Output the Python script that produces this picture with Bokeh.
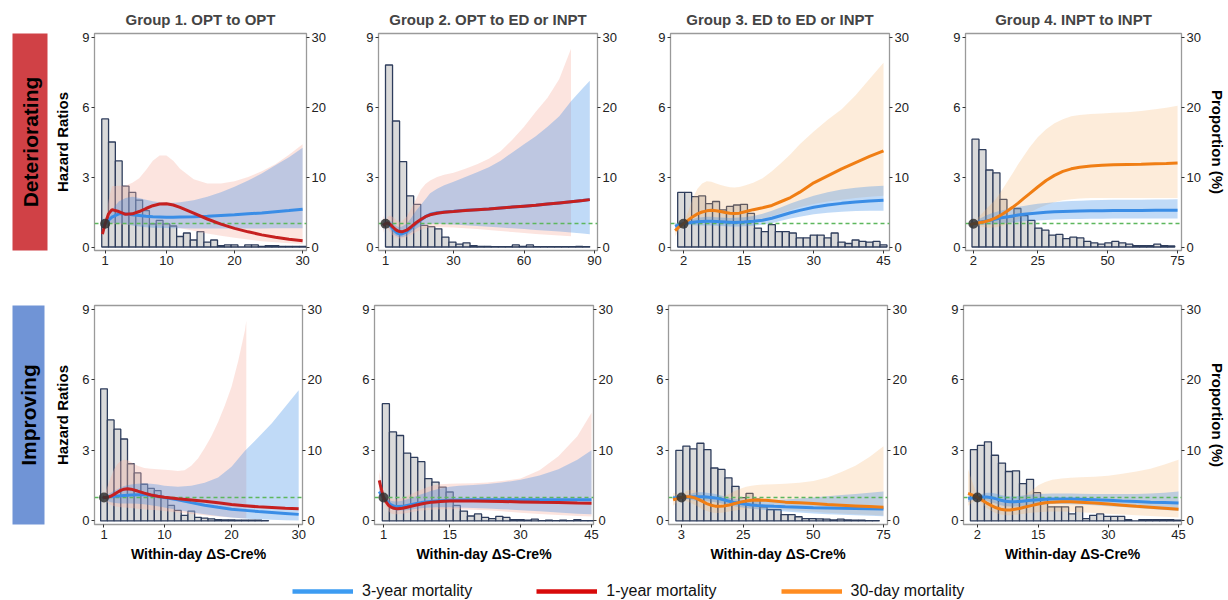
import math
from bokeh.plotting import figure
from bokeh.models import Range1d, LinearAxis, FixedTicker, Legend, LegendItem
from bokeh.layouts import row, column
from bokeh.embed import file_html
from bokeh.resources import INLINE
from bokeh.core.properties import value

FONT = "Liberation Sans"

# ---------------- shared scales / labels ----------------
HR_TICKS = [0, 3, 6, 9]
PROP_TICKS = [0, 10, 20, 30]
HR_NULL = 1.0
REF_HR = 1.0
TITLES = ["Group 1. OPT to OPT", "Group 2. OPT to ED or INPT",
          "Group 3. ED to ED or INPT", "Group 4. INPT to INPT"]
ROW_LABELS = ["Deteriorating", "Improving"]
LEGEND_LABELS = ["3-year mortality", "1-year mortality", "30-day mortality"]

# ---------------- Group 1, deteriorating ----------------
G1D_XTICKS = [1, 10, 20, 30]
G1D_REF = 1
G1D_X = [0.6, 1, 1.5, 2, 3, 4, 5, 6, 7, 8, 9, 10, 11, 12, 14, 16, 18, 20, 22, 24, 26, 28, 30]
G1D_3Y = [0.88, 1.0, 1.15, 1.28, 1.42, 1.42, 1.38, 1.35, 1.32, 1.3, 1.29, 1.28, 1.28, 1.29, 1.3, 1.32, 1.35, 1.38, 1.42, 1.46, 1.51, 1.56, 1.62]
G1D_3Y_LO = [0.75, 0.97, 1.0, 1.02, 1.02, 0.98, 0.92, 0.88, 0.85, 0.83, 0.82, 0.81, 0.8, 0.8, 0.79, 0.79, 0.79, 0.79, 0.79, 0.79, 0.8, 0.8, 0.8]
G1D_3Y_HI = [1.3, 1.03, 1.3, 1.6, 1.95, 2.1, 2.15, 2.1, 2.02, 1.96, 1.92, 1.9, 1.9, 1.92, 2.0, 2.15, 2.35, 2.58, 2.85, 3.15, 3.5, 3.85, 4.25]
G1D_XB = G1D_X
G1D_B = [0.55, 1.0, 1.42, 1.6, 1.52, 1.4, 1.42, 1.52, 1.65, 1.77, 1.84, 1.85, 1.8, 1.7, 1.45, 1.2, 0.98, 0.8, 0.65, 0.52, 0.42, 0.33, 0.27]
G1D_B_LO = [0.35, 0.95, 1.0, 1.0, 0.98, 0.95, 0.93, 0.92, 0.92, 0.92, 0.9, 0.88, 0.85, 0.8, 0.7, 0.58, 0.48, 0.4, 0.32, 0.25, 0.2, 0.16, 0.13]
G1D_B_HI = [0.85, 1.05, 2.0, 2.6, 2.62, 2.62, 2.75, 2.95, 3.3, 3.7, 3.92, 3.92, 3.7, 3.35, 2.9, 2.72, 2.72, 2.82, 3.0, 3.25, 3.55, 3.95, 4.4]
G1D_BIN0, G1D_BINW = 0.5, 1.0
G1D_PROP = [18.3, 15.0, 12.3, 8.7, 7.8, 6.7, 5.2, 3.3, 3.8, 3.3, 3.0, 1.5, 2.0, 1.0, 2.2, 0.7, 1.0, 0.2, 0.3, 0.3, 0.0, 0.3, 0.3, 0.1, 0.2, 0.2, 0.1, 0.1, 0.1, 0.1]

# ---------------- Group 2, deteriorating ----------------
G2D_XTICKS = [1, 30, 60, 90]
G2D_REF = 1
G2D_X = [0, 1, 2, 3, 4, 5, 6, 7, 8, 10, 12, 14, 16, 18, 20, 23, 26, 30, 35, 40, 45, 50, 55, 60, 65, 70, 75, 80, 85, 88]
G2D_3Y = [0.92, 1.0, 1.0, 0.92, 0.8, 0.68, 0.6, 0.56, 0.56, 0.65, 0.82, 1.0, 1.16, 1.3, 1.4, 1.47, 1.5, 1.53, 1.57, 1.6, 1.63, 1.67, 1.71, 1.75, 1.79, 1.84, 1.89, 1.94, 1.99, 2.03]
G2D_3Y_LO = [0.72, 0.97, 0.9, 0.75, 0.6, 0.5, 0.45, 0.42, 0.42, 0.48, 0.62, 0.78, 0.9, 0.98, 1.0, 1.0, 0.98, 0.96, 0.93, 0.9, 0.87, 0.84, 0.8, 0.77, 0.73, 0.7, 0.66, 0.62, 0.58, 0.55]
G2D_3Y_HI = [1.2, 1.03, 1.12, 1.12, 1.05, 0.95, 0.88, 0.85, 0.88, 1.0, 1.25, 1.55, 1.8, 2.05, 2.3, 2.5, 2.65, 2.8, 3.0, 3.2, 3.42, 3.7, 4.05, 4.4, 4.75, 5.15, 5.6, 6.25, 6.8, 7.13]
G2D_B = [0.92, 1.0, 1.03, 0.97, 0.87, 0.77, 0.7, 0.66, 0.65, 0.72, 0.87, 1.04, 1.18, 1.3, 1.38, 1.45, 1.49, 1.52, 1.56, 1.6, 1.63, 1.67, 1.71, 1.75, 1.79, 1.84, 1.89, 1.94, 1.99, 2.03]
G2D_XB = [0, 1, 2, 3, 4, 5, 6, 7, 8, 10, 12, 14, 16, 18, 20, 23, 26, 30, 35, 40, 45, 50, 55, 60, 65, 70, 75, 80]
G2D_B_LO = [0.6, 0.95, 0.8, 0.62, 0.5, 0.42, 0.38, 0.36, 0.37, 0.42, 0.52, 0.64, 0.74, 0.8, 0.84, 0.85, 0.85, 0.84, 0.8, 0.77, 0.73, 0.69, 0.64, 0.6, 0.56, 0.52, 0.49, 0.46]
G2D_B_HI = [1.35, 1.05, 1.3, 1.35, 1.3, 1.2, 1.12, 1.08, 1.1, 1.3, 1.65, 2.05, 2.45, 2.7, 2.85, 3.0, 3.1, 3.18, 3.35, 3.55, 3.78, 4.1, 4.6, 5.15, 5.8, 6.4, 7.2, 8.5]
G2D_BIN0, G2D_BINW = 1.0, 3.0
G2D_PROP = [26.0, 18.0, 12.2, 7.3, 6.1, 3.1, 2.9, 2.6, 1.4, 0.7, 0.4, 0.6, 0.2, 0.1, 0.1, 0.05, 0.05, 0.05, 0.3, 0.1, 0.3, 0.05, 0.05, 0.05, 0.05, 0.05, 0.05, 0.1, 0.05]

# ---------------- Group 3, deteriorating ----------------
G3D_XTICKS = [2, 15, 30, 45]
G3D_REF = 2
G3D_X = [0.2, 1, 2, 3, 4, 5, 6, 7, 8, 9, 10, 11, 12, 13, 14, 15, 17, 19, 21, 23, 25, 27, 30, 33, 36, 39, 42, 45]
G3D_3Y = [0.88, 0.95, 1.0, 1.04, 1.06, 1.08, 1.09, 1.1, 1.1, 1.09, 1.08, 1.07, 1.06, 1.05, 1.06, 1.07, 1.1, 1.15, 1.23, 1.35, 1.47, 1.57, 1.7, 1.8, 1.87, 1.93, 1.97, 2.0]
G3D_3Y_LO = [0.72, 0.9, 0.98, 0.95, 0.93, 0.92, 0.92, 0.92, 0.92, 0.91, 0.9, 0.89, 0.88, 0.88, 0.88, 0.89, 0.91, 0.95, 1.02, 1.12, 1.22, 1.3, 1.4, 1.47, 1.51, 1.54, 1.55, 1.55]
G3D_3Y_HI = [1.05, 1.0, 1.02, 1.12, 1.2, 1.25, 1.28, 1.3, 1.3, 1.28, 1.26, 1.25, 1.24, 1.25, 1.26, 1.28, 1.33, 1.42, 1.55, 1.7, 1.86, 2.0, 2.2, 2.35, 2.46, 2.54, 2.59, 2.62]
G3D_XB = G3D_X
G3D_B = [0.7, 0.85, 1.0, 1.15, 1.3, 1.42, 1.5, 1.55, 1.57, 1.55, 1.52, 1.48, 1.45, 1.44, 1.45, 1.5, 1.6, 1.68, 1.78, 1.95, 2.12, 2.35, 2.75, 3.05, 3.35, 3.62, 3.88, 4.12]
G3D_B_LO = [0.45, 0.75, 0.98, 0.98, 1.0, 1.02, 1.04, 1.05, 1.05, 1.04, 1.03, 1.02, 1.01, 1.0, 1.01, 1.03, 1.1, 1.2, 1.32, 1.45, 1.58, 1.7, 1.84, 1.95, 2.03, 2.1, 2.15, 2.2]
G3D_B_HI = [1.0, 1.02, 1.05, 1.5, 2.1, 2.5, 2.72, 2.82, 2.8, 2.72, 2.66, 2.6, 2.56, 2.55, 2.57, 2.62, 2.75, 2.95, 3.25, 3.6, 3.98, 4.4, 4.95, 5.45, 5.9, 6.5, 7.2, 7.9]
G3D_BIN0, G3D_BINW = 0.75, 1.5
G3D_PROP = [7.8, 7.8, 7.2, 7.3, 6.2, 6.5, 5.3, 5.8, 6.0, 6.1, 4.8, 2.7, 2.2, 3.2, 2.2, 2.2, 2.0, 1.3, 1.3, 1.7, 1.7, 1.3, 2.0, 0.7, 0.5, 1.0, 0.8, 0.7, 0.8, 0.3]

# ---------------- Group 4, deteriorating ----------------
G4D_XTICKS = [2, 25, 50, 75]
G4D_REF = 2
G4D_X = [0.8, 2, 4, 6, 8, 10, 12, 14, 16, 18, 20, 22, 25, 28, 31, 34, 37, 40, 44, 48, 52, 57, 62, 67, 71, 75]
G4D_3Y = [0.92, 1.0, 1.06, 1.1, 1.15, 1.2, 1.25, 1.29, 1.33, 1.37, 1.4, 1.43, 1.46, 1.49, 1.51, 1.52, 1.53, 1.54, 1.55, 1.55, 1.56, 1.56, 1.56, 1.57, 1.57, 1.57]
G4D_3Y_LO = [0.85, 0.98, 0.95, 0.95, 0.96, 0.98, 1.0, 1.03, 1.05, 1.08, 1.1, 1.12, 1.14, 1.16, 1.18, 1.19, 1.2, 1.2, 1.21, 1.21, 1.22, 1.22, 1.22, 1.22, 1.22, 1.22]
G4D_3Y_HI = [1.0, 1.02, 1.2, 1.32, 1.42, 1.5, 1.56, 1.62, 1.67, 1.72, 1.76, 1.8, 1.85, 1.89, 1.92, 1.95, 1.97, 1.98, 2.0, 2.01, 2.02, 2.03, 2.03, 2.04, 2.04, 2.05]
G4D_XB = G4D_X
G4D_B = [0.95, 1.0, 1.04, 1.08, 1.15, 1.25, 1.38, 1.53, 1.7, 1.88, 2.08, 2.28, 2.57, 2.85, 3.07, 3.24, 3.35, 3.42, 3.47, 3.5, 3.52, 3.54, 3.55, 3.57, 3.58, 3.6]
G4D_B_LO = [0.85, 0.98, 0.9, 0.85, 0.83, 0.85, 0.9, 0.98, 1.08, 1.2, 1.33, 1.47, 1.65, 1.8, 1.92, 2.0, 2.05, 2.08, 2.1, 2.1, 2.1, 2.1, 2.1, 2.1, 2.1, 2.1]
G4D_B_HI = [1.05, 1.02, 1.3, 1.55, 1.8, 2.05, 2.4, 2.78, 3.15, 3.55, 3.9, 4.25, 4.7, 5.05, 5.3, 5.48, 5.6, 5.66, 5.7, 5.72, 5.75, 5.78, 5.83, 5.9, 5.97, 6.05]
G4D_BIN0, G4D_BINW = 1.5, 2.5
G4D_PROP = [15.4, 13.9, 11.0, 10.6, 6.8, 4.3, 5.5, 4.5, 3.8, 2.7, 2.4, 1.7, 1.8, 1.2, 1.4, 1.3, 0.8, 0.6, 0.4, 0.6, 0.8, 0.6, 0.4, 0.2, 0.2, 0.2, 0.4, 0.2, 0.15]

# ---------------- Group 1, improving ----------------
G1I_XTICKS = [1, 10, 20, 30]
G1I_REF = 1
G1I_X = [0.8, 1, 1.5, 2, 2.5, 3, 3.5, 4, 4.5, 5, 6, 7, 8, 9, 10, 12, 14, 16, 18, 20, 22, 24, 26, 28, 30]
G1I_3Y = [0.95, 1.0, 1.02, 1.04, 1.05, 1.06, 1.07, 1.08, 1.09, 1.1, 1.11, 1.11, 1.09, 1.05, 1.0, 0.9, 0.78, 0.67, 0.58, 0.5, 0.45, 0.4, 0.36, 0.32, 0.28]
G1I_3Y_LO = [0.75, 0.98, 0.85, 0.8, 0.77, 0.75, 0.74, 0.74, 0.74, 0.74, 0.73, 0.71, 0.67, 0.62, 0.57, 0.47, 0.37, 0.28, 0.21, 0.15, 0.1, 0.07, 0.05, 0.03, 0.02]
G1I_3Y_HI = [1.2, 1.02, 1.12, 1.2, 1.28, 1.35, 1.42, 1.48, 1.52, 1.55, 1.58, 1.6, 1.58, 1.55, 1.5, 1.45, 1.5, 1.62, 1.85, 2.3, 2.98, 3.55, 4.15, 4.85, 5.55]
G1I_B = [1.02, 1.0, 1.0, 1.05, 1.13, 1.22, 1.3, 1.35, 1.37, 1.35, 1.27, 1.18, 1.1, 1.05, 1.01, 0.94, 0.89, 0.84, 0.77, 0.7, 0.65, 0.6, 0.57, 0.54, 0.52]
G1I_XB = [0.8, 1, 1.5, 2, 2.5, 3, 3.5, 4, 4.5, 5, 6, 7, 8, 9, 10, 11, 12, 13, 14, 15, 16, 17, 18, 19, 20, 21, 22, 22.2]
G1I_B_LO = [0.6, 0.95, 0.78, 0.68, 0.62, 0.6, 0.58, 0.57, 0.56, 0.55, 0.52, 0.5, 0.47, 0.45, 0.42, 0.39, 0.36, 0.33, 0.3, 0.27, 0.24, 0.21, 0.19, 0.17, 0.15, 0.13, 0.12, 0.12]
G1I_B_HI = [1.6, 1.05, 1.45, 1.85, 2.2, 2.42, 2.55, 2.6, 2.58, 2.5, 2.35, 2.25, 2.22, 2.2, 2.18, 2.15, 2.12, 2.15, 2.35, 2.65, 3.1, 3.6, 4.2, 4.9, 5.7, 6.8, 8.1, 8.5]
G1I_BIN0, G1I_BINW = 0.5, 1.0
G1I_PROP = [18.7, 14.3, 13.0, 11.6, 8.1, 6.8, 5.2, 4.6, 4.3, 3.4, 2.2, 1.5, 0.8, 1.4, 0.5, 0.4, 0.3, 0.2, 0.15, 0.15, 0.1, 0.1, 0.1, 0.1, 0.05]

# ---------------- Group 2, improving ----------------
G2I_XTICKS = [1, 15, 30, 45]
G2I_REF = 1
G2I_X = [0.1, 0.5, 1, 1.5, 2, 2.5, 3, 3.5, 4, 5, 6, 7, 8, 9, 10, 11, 12, 13, 15, 17, 20, 23, 26, 30, 34, 38, 42, 45]
G2I_3Y = [1.25, 1.12, 1.0, 0.88, 0.78, 0.7, 0.65, 0.62, 0.61, 0.62, 0.66, 0.7, 0.74, 0.78, 0.81, 0.83, 0.85, 0.86, 0.88, 0.89, 0.9, 0.9, 0.9, 0.9, 0.9, 0.9, 0.9, 0.9]
G2I_3Y_LO = [1.1, 1.02, 0.98, 0.8, 0.65, 0.55, 0.48, 0.45, 0.44, 0.44, 0.46, 0.49, 0.52, 0.54, 0.56, 0.57, 0.58, 0.58, 0.58, 0.57, 0.55, 0.53, 0.5, 0.46, 0.41, 0.36, 0.31, 0.28]
G2I_3Y_HI = [1.4, 1.22, 1.02, 0.95, 0.9, 0.86, 0.84, 0.83, 0.83, 0.86, 0.92, 0.99, 1.06, 1.13, 1.2, 1.27, 1.33, 1.38, 1.45, 1.5, 1.53, 1.57, 1.63, 1.75, 1.93, 2.2, 2.6, 3.0]
G2I_XB = G2I_X
G2I_B = [1.72, 1.38, 1.0, 0.82, 0.68, 0.6, 0.55, 0.53, 0.52, 0.54, 0.58, 0.63, 0.68, 0.72, 0.76, 0.79, 0.81, 0.83, 0.85, 0.85, 0.85, 0.84, 0.83, 0.81, 0.79, 0.78, 0.76, 0.75]
G2I_B_LO = [1.25, 1.1, 0.95, 0.6, 0.42, 0.33, 0.3, 0.29, 0.29, 0.31, 0.34, 0.38, 0.41, 0.44, 0.46, 0.48, 0.49, 0.5, 0.5, 0.5, 0.48, 0.45, 0.41, 0.35, 0.3, 0.25, 0.21, 0.19]
G2I_B_HI = [2.1, 1.7, 1.05, 1.0, 0.98, 0.95, 0.93, 0.92, 0.93, 0.98, 1.06, 1.15, 1.25, 1.33, 1.41, 1.48, 1.53, 1.56, 1.58, 1.59, 1.6, 1.63, 1.7, 1.8, 2.15, 2.75, 3.6, 4.6]
G2I_BIN0, G2I_BINW = 0.75, 1.5
G2I_PROP = [16.6, 12.6, 12.1, 9.6, 9.0, 8.4, 6.0, 5.5, 4.8, 4.1, 2.2, 1.4, 0.7, 1.0, 0.5, 0.33, 0.66, 0.5, 0.2, 0.2, 0.1, 0.25, 0.05, 0.1, 0.05, 0.1, 0.05, 0.2, 0.03, 0.03]

# ---------------- Group 3, improving ----------------
G3I_XTICKS = [3, 25, 50, 75]
G3I_REF = 3
G3I_X = [0, 1.5, 3, 4.5, 6, 7.5, 9, 10.5, 12, 13.5, 15, 16.5, 18, 20, 22, 24, 26, 28, 30, 33, 36, 40, 45, 50, 55, 60, 65, 70, 75]
G3I_3Y = [0.98, 0.99, 1.0, 1.01, 1.02, 1.03, 1.03, 1.03, 1.02, 1.0, 0.98, 0.94, 0.9, 0.84, 0.78, 0.74, 0.71, 0.68, 0.66, 0.64, 0.62, 0.6, 0.58, 0.56, 0.55, 0.54, 0.53, 0.52, 0.51]
G3I_3Y_LO = [0.9, 0.95, 0.98, 0.94, 0.9, 0.87, 0.85, 0.84, 0.84, 0.83, 0.8, 0.76, 0.72, 0.67, 0.62, 0.58, 0.55, 0.52, 0.5, 0.47, 0.44, 0.4, 0.36, 0.32, 0.29, 0.26, 0.24, 0.22, 0.2]
G3I_3Y_HI = [1.08, 1.05, 1.02, 1.08, 1.15, 1.2, 1.22, 1.22, 1.2, 1.18, 1.15, 1.1, 1.05, 0.98, 0.93, 0.9, 0.88, 0.87, 0.87, 0.88, 0.89, 0.91, 0.95, 1.0, 1.05, 1.1, 1.15, 1.2, 1.25]
G3I_XB = G3I_X
G3I_B = [0.9, 0.95, 1.0, 1.03, 1.03, 0.99, 0.92, 0.83, 0.74, 0.67, 0.63, 0.62, 0.64, 0.68, 0.74, 0.8, 0.85, 0.88, 0.89, 0.88, 0.85, 0.8, 0.77, 0.74, 0.7, 0.67, 0.64, 0.61, 0.58]
G3I_B_LO = [0.65, 0.8, 0.97, 0.85, 0.78, 0.7, 0.6, 0.5, 0.42, 0.37, 0.34, 0.34, 0.36, 0.4, 0.44, 0.48, 0.5, 0.52, 0.52, 0.51, 0.5, 0.47, 0.43, 0.39, 0.35, 0.32, 0.29, 0.26, 0.23]
G3I_B_HI = [1.2, 1.12, 1.05, 1.25, 1.33, 1.3, 1.2, 1.08, 0.98, 0.93, 0.93, 0.97, 1.05, 1.15, 1.27, 1.37, 1.45, 1.5, 1.53, 1.55, 1.56, 1.58, 1.62, 1.7, 1.85, 2.08, 2.35, 2.72, 3.17]
G3I_BIN0, G3I_BINW = 1.0, 2.5
G3I_PROP = [10.0, 10.6, 10.2, 11.0, 10.1, 7.5, 7.3, 6.1, 4.9, 3.3, 3.9, 3.1, 2.0, 1.6, 1.6, 0.9, 0.9, 0.6, 0.33, 0.33, 0.3, 0.25, 0.15, 0.25, 0.15, 0.1, 0.1, 0.05, 0.05]

# ---------------- Group 4, improving ----------------
G4I_XTICKS = [2, 15, 30, 45]
G4I_REF = 2
G4I_X = [0, 1, 2, 3, 4, 5, 6, 7, 8, 9, 10, 11, 12, 13.5, 15, 16.5, 18, 20, 22, 24, 27, 30, 33, 36, 39, 42, 45]
G4I_3Y = [0.95, 0.98, 1.0, 1.02, 1.02, 0.99, 0.94, 0.88, 0.84, 0.82, 0.82, 0.83, 0.85, 0.88, 0.9, 0.92, 0.93, 0.93, 0.93, 0.92, 0.9, 0.88, 0.85, 0.83, 0.8, 0.78, 0.76]
G4I_3Y_LO = [0.8, 0.9, 0.98, 0.9, 0.85, 0.79, 0.73, 0.67, 0.63, 0.61, 0.61, 0.62, 0.64, 0.67, 0.69, 0.71, 0.72, 0.72, 0.71, 0.7, 0.67, 0.63, 0.59, 0.55, 0.51, 0.47, 0.43]
G4I_3Y_HI = [1.1, 1.05, 1.02, 1.15, 1.2, 1.2, 1.16, 1.1, 1.06, 1.04, 1.04, 1.06, 1.09, 1.12, 1.15, 1.16, 1.17, 1.17, 1.17, 1.16, 1.15, 1.14, 1.14, 1.15, 1.17, 1.2, 1.25]
G4I_XB = G4I_X
G4I_B = [1.17, 1.1, 1.0, 0.88, 0.76, 0.65, 0.56, 0.5, 0.47, 0.47, 0.5, 0.53, 0.58, 0.65, 0.72, 0.77, 0.8, 0.82, 0.82, 0.8, 0.76, 0.72, 0.67, 0.62, 0.58, 0.54, 0.5]
G4I_B_LO = [0.65, 0.8, 0.97, 0.72, 0.55, 0.42, 0.33, 0.27, 0.24, 0.24, 0.26, 0.28, 0.31, 0.35, 0.37, 0.39, 0.4, 0.4, 0.39, 0.37, 0.34, 0.31, 0.27, 0.24, 0.21, 0.18, 0.15]
G4I_B_HI = [2.2, 1.6, 1.05, 1.05, 1.0, 0.92, 0.83, 0.78, 0.76, 0.79, 0.86, 0.96, 1.08, 1.28, 1.52, 1.66, 1.75, 1.8, 1.83, 1.86, 1.88, 1.92, 2.0, 2.1, 2.22, 2.4, 2.6]
G4I_BIN0, G4I_BINW = 0.5, 1.5
G4I_PROP = [10.1, 10.7, 11.2, 9.3, 8.2, 7.0, 7.1, 5.3, 5.9, 4.0, 3.2, 2.0, 2.0, 2.0, 1.0, 2.0, 0.33, 0.8, 1.0, 0.66, 0.66, 0.66, 0.17, 0.0, 0.17, 0.17, 0.17, 0.17, 0.17, 0.1]

# ---------------- styling ----------------
C_3Y = "#3A8DE6"
C_1Y = "#C62020"
C_30D = "#F07E14"
BAND_3Y = "#3A8DE6"
BAND_1Y = "#F6B3A6"
BAND_30D = "#F9B56A"
LEG_COLORS = ["#3D9CF2", "#D80A0A", "#FF8C21"]
BAR_FILL = "#D8D8D8"
BAR_LINE = "#2E3D5C"
NULL_COLOR = "#5DB75D"
BOX_COLORS = ["#D04146", "#7094D6"]

FW, FH = 219, 219
HR_RANGE = (-0.15, 9.15)
PROP_RANGE = (-0.5, 30.5)

X_RANGES = [[(-0.564, 30.57), (-1.98, 91.28), (-0.795, 46.29), (-0.82, 76.41)],
            [(-0.415, 30.57), (-0.904, 45.42), (-1.63, 76.43), (-0.98, 45.64)]]
# per row: left / right borders of each column (keeps column widths equal across rows)
COL_ML = [[36, 33, 35, 37], [32, 29, 33, 35]]
COL_MR = [[39, 38, 39, 44], [43, 42, 41, 46]]
LAB_W = 51
ROW_T = [33, 27]
ROW_B = [26, 42]
LEG_H = 600 - (ROW_T[0] + FH + ROW_B[0]) - (ROW_T[1] + FH + ROW_B[1])

TOP = [
    dict(xt=G1D_XTICKS, ref=G1D_REF, x=G1D_X, l3=G1D_3Y, lo3=G1D_3Y_LO, hi3=G1D_3Y_HI, xb=G1D_XB, lb=G1D_B, lob=G1D_B_LO, hib=G1D_B_HI, cb=C_1Y, bb=BAND_1Y, ba=0.36, b0=G1D_BIN0, bw=G1D_BINW, prop=G1D_PROP),
    dict(xt=G2D_XTICKS, ref=G2D_REF, x=G2D_X, l3=G2D_3Y, lo3=G2D_3Y_LO, hi3=G2D_3Y_HI, xb=G2D_XB, lb=G2D_B, lob=G2D_B_LO, hib=G2D_B_HI, cb=C_1Y, bb=BAND_1Y, ba=0.36, b0=G2D_BIN0, bw=G2D_BINW, prop=G2D_PROP),
    dict(xt=G3D_XTICKS, ref=G3D_REF, x=G3D_X, l3=G3D_3Y, lo3=G3D_3Y_LO, hi3=G3D_3Y_HI, xb=G3D_XB, lb=G3D_B, lob=G3D_B_LO, hib=G3D_B_HI, cb=C_30D, bb=BAND_30D, ba=0.25, b0=G3D_BIN0, bw=G3D_BINW, prop=G3D_PROP),
    dict(xt=G4D_XTICKS, ref=G4D_REF, x=G4D_X, l3=G4D_3Y, lo3=G4D_3Y_LO, hi3=G4D_3Y_HI, xb=G4D_XB, lb=G4D_B, lob=G4D_B_LO, hib=G4D_B_HI, cb=C_30D, bb=BAND_30D, ba=0.25, b0=G4D_BIN0, bw=G4D_BINW, prop=G4D_PROP),
]
BOT = [
    dict(xt=G1I_XTICKS, ref=G1I_REF, x=G1I_X, l3=G1I_3Y, lo3=G1I_3Y_LO, hi3=G1I_3Y_HI, xb=G1I_XB, lb=G1I_B, lob=G1I_B_LO, hib=G1I_B_HI, cb=C_1Y, bb=BAND_1Y, ba=0.36, b0=G1I_BIN0, bw=G1I_BINW, prop=G1I_PROP),
    dict(xt=G2I_XTICKS, ref=G2I_REF, x=G2I_X, l3=G2I_3Y, lo3=G2I_3Y_LO, hi3=G2I_3Y_HI, xb=G2I_XB, lb=G2I_B, lob=G2I_B_LO, hib=G2I_B_HI, cb=C_1Y, bb=BAND_1Y, ba=0.36, b0=G2I_BIN0, bw=G2I_BINW, prop=G2I_PROP),
    dict(xt=G3I_XTICKS, ref=G3I_REF, x=G3I_X, l3=G3I_3Y, lo3=G3I_3Y_LO, hi3=G3I_3Y_HI, xb=G3I_XB, lb=G3I_B, lob=G3I_B_LO, hib=G3I_B_HI, cb=C_30D, bb=BAND_30D, ba=0.25, b0=G3I_BIN0, bw=G3I_BINW, prop=G3I_PROP),
    dict(xt=G4I_XTICKS, ref=G4I_REF, x=G4I_X, l3=G4I_3Y, lo3=G4I_3Y_LO, hi3=G4I_3Y_HI, xb=G4I_XB, lb=G4I_B, lob=G4I_B_LO, hib=G4I_B_HI, cb=C_30D, bb=BAND_30D, ba=0.25, b0=G4I_BIN0, bw=G4I_BINW, prop=G4I_PROP),
]


def make_panel(s, xr, col, r, title, xlabel):
    ml, mr, mt, mb = COL_ML[r][col], COL_MR[r][col], ROW_T[r], ROW_B[r]
    p = figure(width=ml + FW + mr, height=mt + FH + mb,
               x_range=Range1d(*xr), y_range=Range1d(*HR_RANGE),
               output_backend="svg", toolbar_location=None, title=title,
               min_border_left=ml, min_border_right=mr,
               min_border_top=mt, min_border_bottom=mb)
    p.extra_y_ranges = {"prop": Range1d(*PROP_RANGE)}
    ax_r = LinearAxis(y_range_name="prop", ticker=FixedTicker(ticks=PROP_TICKS))
    p.add_layout(ax_r, "right")
    p.left[0].ticker = FixedTicker(ticks=HR_TICKS)
    p.below[0].ticker = FixedTicker(ticks=s["xt"])
    for ax in p.axis:
        ax.axis_line_color = None
        ax.major_tick_line_color = "#333333"
        ax.major_tick_out = 3
        ax.major_tick_in = 0
        ax.minor_tick_line_color = None
        ax.major_label_text_font = FONT
        ax.major_label_text_font_size = "13px"
        ax.major_label_text_color = "#222222"
        ax.major_label_standoff = 2
        ax.axis_label_text_font = FONT
        ax.axis_label_text_font_style = "bold"
        ax.axis_label_text_color = "#000000"
    p.xgrid.visible = False
    p.ygrid.visible = False
    p.outline_line_color = "#9a9a9a"
    p.outline_line_width = 1.3
    if title:
        p.title.text_font = FONT
        p.title.text_font_size = "15px"
        p.title.text_font_style = "bold"
        p.title.align = "center"
        p.title.standoff = 11
    if col == 0:
        p.left[0].axis_label = "Hazard Ratios"
        p.left[0].axis_label_text_font_size = "15px"
        p.left[0].axis_label_standoff = 8
    if col == 3:
        ax_r.axis_label = "Proportion (%)"
        ax_r.axis_label_text_font_size = "15px"
        ax_r.axis_label_standoff = 5
    if xlabel:
        p.below[0].axis_label = xlabel
        p.below[0].axis_label_text_font_size = "14px"
        p.below[0].axis_label_standoff = 4

    n = len(s["prop"])
    left = [s["b0"] + k * s["bw"] for k in range(n)]
    right = [v + s["bw"] for v in left]
    p.quad(left=left, right=right, bottom=[0] * n, top=s["prop"], y_range_name="prop",
           fill_color=BAR_FILL, fill_alpha=0.95, line_color=BAR_LINE, line_width=1.3)
    p.varea(x=s["xb"], y1=s["lob"], y2=s["hib"], fill_color=s["bb"], fill_alpha=s["ba"])
    p.varea(x=s["x"], y1=s["lo3"], y2=s["hi3"], fill_color=BAND_3Y, fill_alpha=0.32)
    p.hspan(y=[HR_NULL], line_color=NULL_COLOR, line_dash="4 3", line_width=1.6)
    p.line(x=s["x"], y=s["l3"], line_color=C_3Y, line_width=3)
    p.line(x=s["x"], y=s["lb"], line_color=s["cb"], line_width=3)
    p.scatter(x=[s["ref"]], y=[REF_HR], size=10, fill_color="#333333", fill_alpha=0.85,
              line_color=None)
    return p


def side_label(text, color, height, mt, mb, ml, mr):
    p = figure(width=LAB_W, height=height, x_range=Range1d(0, 1), y_range=Range1d(0, 1),
               x_axis_type=None, y_axis_type=None, output_backend="svg", toolbar_location=None,
               title=None, min_border_left=ml, min_border_right=mr,
               min_border_top=mt, min_border_bottom=mb)
    p.background_fill_color = color
    p.outline_line_color = None
    xr, yr = p.x_range, p.y_range
    p.text(x=[(xr.start + xr.end) / 2], y=[(yr.start + yr.end) / 2], text=[text],
           angle=math.pi / 2, text_align="center", text_baseline="middle",
           text_font=value(FONT), text_font_size="21px", text_font_style="bold",
           text_color="black")
    return p


top_panels = [make_panel(TOP[i], X_RANGES[0][i], i, 0, TITLES[i], None) for i in range(4)]
bot_panels = [make_panel(BOT[i], X_RANGES[1][i], i, 1, None, "Within-day \u0394S-Cre%") for i in range(4)]

H_TOP = ROW_T[0] + FH + ROW_B[0]
H_BOT = ROW_T[1] + FH + ROW_B[1]
lab_top = side_label(ROW_LABELS[0], BOX_COLORS[0], H_TOP, 22, H_TOP - 22 - 228, 12, 4)
lab_bot = side_label(ROW_LABELS[1], BOX_COLORS[1], H_BOT, 20, H_BOT - 20 - 228, 12, 7)

TOTAL_W = LAB_W + sum(COL_ML[0][i] + FW + COL_MR[0][i] for i in range(4))
leg = figure(width=TOTAL_W, height=LEG_H, x_range=Range1d(0, 1), y_range=Range1d(0, 1),
             x_axis_type=None, y_axis_type=None, output_backend="svg", toolbar_location=None,
             title=None, min_border_left=0, min_border_right=0, min_border_top=0,
             min_border_bottom=0)
leg.outline_line_color = None
rs = [leg.line(x=[float("nan")], y=[float("nan")], line_color=c, line_width=4.5) for c in LEG_COLORS]
legend = Legend(items=[LegendItem(label=LEGEND_LABELS[i], renderers=[rs[i]]) for i in range(3)],
                orientation="horizontal", location=(292, 0), glyph_width=61, glyph_height=16,
                label_standoff=9, spacing=64, padding=0, margin=0, border_line_color=None,
                background_fill_alpha=0, label_text_font=FONT, label_text_font_size="16px",
                label_height=16, label_text_color="#111111")
leg.add_layout(legend, "center")

layout = column(row(lab_top, *top_panels), row(lab_bot, *bot_panels), leg)

open("out.html", "w").write(file_html(layout, INLINE))
